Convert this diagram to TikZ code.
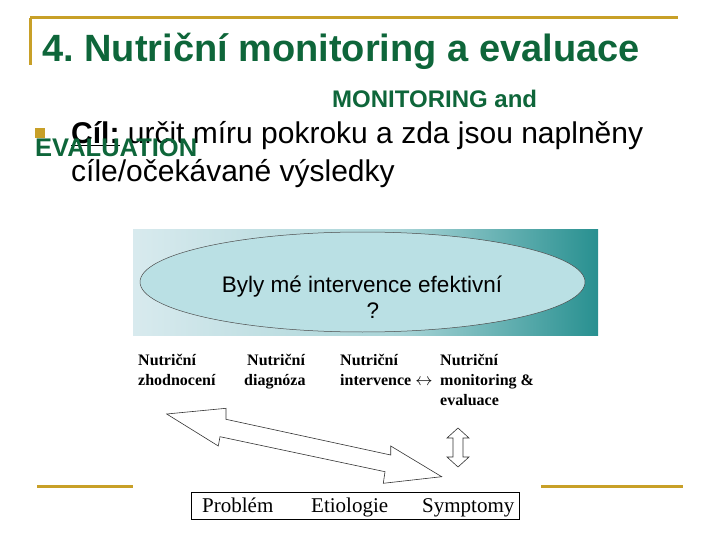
\documentclass[tikz,border=0pt]{standalone}
\usepackage{fontspec}
\usetikzlibrary{shapes.geometric}
\setmainfont{Liberation Serif}
\setsansfont{Liberation Sans}
\newfontfamily\arialf{Liberation Sans}
\newfontfamily\timesf{Liberation Serif}
\definecolor{titlegreen}{RGB}{14,102,58}
\definecolor{gold}{RGB}{200,160,40}
\definecolor{bgA}{RGB}{216,234,238}
\definecolor{bgB}{RGB}{168,212,215}
\definecolor{bgC}{RGB}{40,144,144}
\definecolor{ellfill}{RGB}{186,224,228}
\tikzset{
  goldline/.style={draw=gold, line width=3pt},
  lbl/.style={font=\timesf\bfseries\fontsize{16}{20}\selectfont, align=left, anchor=north west, inner sep=0pt},
  boxtxt/.style={anchor=base west, inner sep=0pt, font=\timesf\fontsize{21}{24}\selectfont},
  blockarrow/.style={draw=black!80, line width=0.6pt, fill=white, line join=miter},
}
\begin{document}
\frenchspacing
\begin{tikzpicture}[x=1pt,y=-1pt]
\useasboundingbox (0,0) rectangle (720,540);
% frame lines
\draw[goldline] (30,18) -- (678,18);
\draw[goldline] (30,18) -- (30,65);
\draw[goldline] (37,486) -- (133,486);
\draw[goldline] (541,486) -- (683,486);
% title
\node[anchor=base west, inner sep=0pt, text=titlegreen, font=\arialf\bfseries\fontsize{38}{42}\selectfont] (title) at (42,62) {4. Nutriční monitoring a evaluace};
% green overlay words
\node[anchor=base west, inner sep=0pt, text=titlegreen, font=\arialf\bfseries\fontsize{24}{28}\selectfont] (mon) at (332,108) {MONITORING and};
% bullet
\fill[gold] (35,128) rectangle (45,138);
\node[anchor=base west, inner sep=0pt, font=\arialf\fontsize{30}{34}\selectfont] (goal) at (71,144) {\underline{\bfseries Cíl:} určit míru pokroku a zda jsou naplněny};
\node[anchor=base west, inner sep=0pt, text=titlegreen, font=\arialf\bfseries\fontsize{25.5}{28}\selectfont] (evl) at (35,157) {EVALUATION};
\node[anchor=base west, inner sep=0pt, font=\arialf\fontsize{30}{34}\selectfont] (goal2) at (71,182) {cíle/očekávané výsledky};
% panel
\shade[left color=bgA, right color=bgB] (133,230) rectangle (400,335);
\shade[left color=bgB, right color=bgC] (399.5,230) rectangle (598,335);
\node[ellipse, draw=black!70, line width=0.5pt, fill=ellfill, minimum width=445, minimum height=100, inner sep=0pt] (ell) at (362.5,282) {};
\node[font=\arialf\fontsize{22.5}{26}\selectfont, align=center, inner sep=0pt] (q) at (362,297) {Byly mé intervence efektivní\\\hspace*{22pt}?};
% labels
\node[lbl] (l1) at (138,354) {Nutriční\\zhodnocení};
\node[lbl] (l2) at (244,354) {\hspace*{3pt}Nutriční\\diagnóza};
\node[lbl] (l3) at (340,354) {Nutriční\\intervence $\leftrightarrow$};
\node[lbl] (l4) at (440,354) {Nutriční\\monitoring \&\\evaluace};
% big double block arrow
\draw[blockarrow] (166.7,414) -- (226,408.3) -- (226,419.3) -- (390.7,455) -- (390.7,446) -- (441.7,476.7) -- (383.3,483.3) -- (385,471.7) -- (220,436.7) -- (218.3,446) -- cycle;
% vertical double arrow
\draw[blockarrow] (458,428) -- (469,438) -- (463,438) -- (463,457) -- (469,457) -- (458,467) -- (447,457) -- (453,457) -- (453,438) -- (447,438) -- cycle;
% bottom box
\draw[line width=0.6pt] (191,492) rectangle (519,519);
\node[boxtxt] (p1) at (202,512) {Problém};
\node[boxtxt] (p2) at (311,512) {Etiologie};
\node[boxtxt] (p3) at (422,512) {Symptomy};
\end{tikzpicture}
\end{document}
